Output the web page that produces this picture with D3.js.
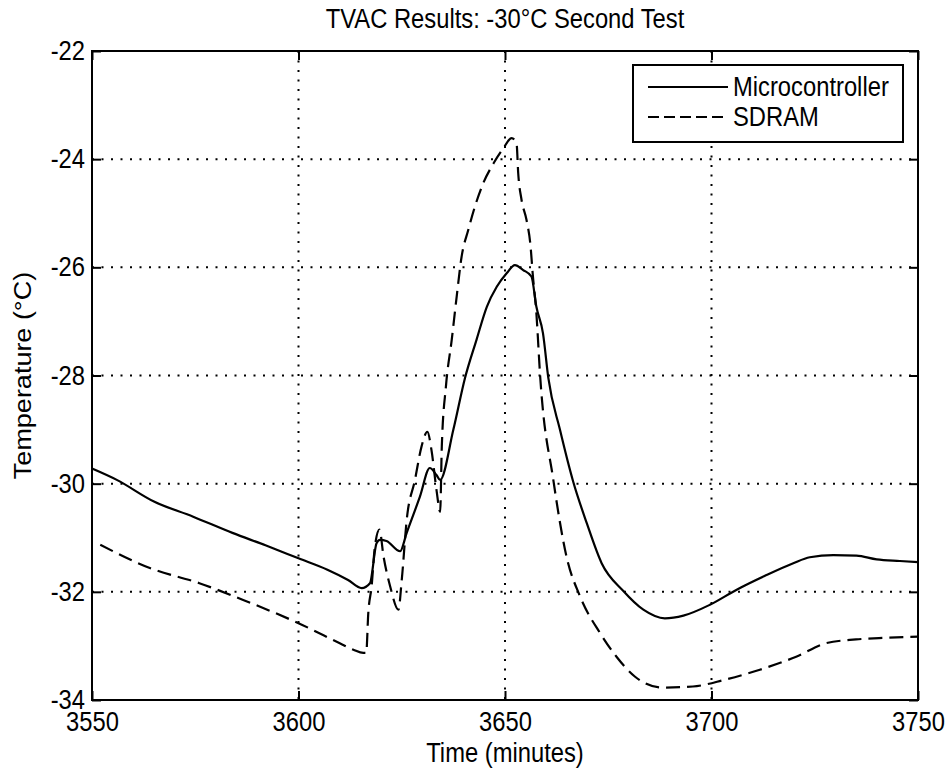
<!DOCTYPE html>
<html lang="en">
  <head>
    <meta charset="UTF-8" />
    <title>TVAC Results: -30°C Second Test</title>
    <style>
      body {
        margin: 0;
        background-color: #fff;
      }
      svg text {
        font-family: "Liberation Sans", Arial, sans-serif;
        font-size: 27px;
        fill: #000;
      }
    </style>
  </head>
  <body>
    <svg id="chart" width="946" height="770"></svg>
    <script src="https://d3js.org/d3.v7.min.js"></script>
    <script>
      // x ticks and y ticks
      const xTicks = [3550, 3600, 3650, 3700, 3750];
      const yTicks = [-34, -32, -30, -28, -26, -24, -22];

      // Microcontroller (solid)
      const mcuTime = [
        3550, 3556, 3565, 3574.5, 3584, 3592, 3600, 3607, 3612, 3615.3,
        3617.3, 3618.9, 3619.7, 3621.3, 3624.6, 3626.2, 3629.4, 3631.8, 3633.4, 3634.3,
        3637.5, 3640.3, 3643.1, 3645.6, 3648, 3650.4, 3652.4, 3654.4, 3656.4, 3657.6,
        3659.2, 3660.5, 3663.3, 3666.5, 3669.8, 3673.4, 3678.6, 3683.5, 3688.7, 3693.2,
        3699.6, 3706.1, 3713.3, 3719.8, 3723.8, 3729.5, 3735.1, 3740, 3745.6, 3750
      ];
      const mcuTemp = [
        -29.72, -29.93, -30.33, -30.61, -30.91, -31.14, -31.38, -31.59, -31.78, -31.93,
        -31.84, -31.1, -31.04, -31.06, -31.25, -30.91, -30.24, -29.71, -29.84, -29.93,
        -29.0, -28.05, -27.34, -26.73, -26.36, -26.11, -25.96, -26.05, -26.17, -26.73,
        -27.22, -28.05, -29.0, -29.96, -30.73, -31.47, -31.98, -32.33, -32.49, -32.44,
        -32.24, -31.96, -31.69, -31.47, -31.36, -31.32, -31.33, -31.4, -31.43, -31.45
      ];

      // SDRAM (dashed)
      const sdramTime = [
        3552, 3564, 3576, 3586.6, 3600, 3610, 3613.3, 3615.7, 3616.4, 3616.9,
        3617.7, 3618.5, 3619.6, 3620.6, 3622.2, 3624.2, 3625, 3626.2, 3628.2, 3629.8,
        3631.2, 3632.2, 3633.4, 3634.3, 3634.7, 3635.7, 3637.1, 3638.3, 3639.5, 3641.1,
        3642.7, 3644.7, 3647.2, 3649.6, 3651.6, 3652.8, 3653.2, 3654, 3655.2, 3656.2,
        3656.7, 3657.6, 3658.5, 3661.7, 3664.9, 3668.2, 3673, 3677, 3681.5, 3688,
        3695.5, 3703, 3711.7, 3720.5, 3727.7, 3735, 3742, 3750
      ];
      const sdramTemp = [
        -31.13, -31.56, -31.84, -32.15, -32.58, -32.95, -33.07, -33.13, -33.13, -32.39,
        -31.9, -31.16, -30.85, -31.35, -31.9, -32.33, -31.78, -30.67, -29.93, -29.31,
        -29.04, -29.38, -30.11, -30.52, -29.31, -28.2, -27.34, -26.54, -25.8, -25.31,
        -24.88, -24.45, -24.08, -23.8, -23.61, -23.71, -24.26, -24.75, -25.12, -25.62,
        -26.11, -26.85, -28.0, -29.93, -31.35, -32.09, -32.76, -33.2, -33.57, -33.77,
        -33.75, -33.63, -33.44, -33.2, -32.95, -32.88, -32.85, -32.83
      ];

      const series = [
        { name: "Microcontroller", time: mcuTime, temp: mcuTemp, dash: null },
        { name: "SDRAM", time: sdramTime, temp: sdramTemp, dash: "14,7" },
      ];

      const svg = d3.select("#chart");
      const margin = { top: 51, right: 28, bottom: 70, left: 92 };
      const width = 946 - margin.left - margin.right;
      const height = 770 - margin.top - margin.bottom;

      const x = d3.scaleLinear().domain([3550, 3750]).range([0, width]);
      const y = d3.scaleLinear().domain([-34, -22]).range([height, 0]);

      const g = svg
        .append("g")
        .attr("transform", `translate(${margin.left},${margin.top})`);

      // dotted grid
      g.append("g")
        .selectAll("line")
        .data(xTicks.slice(1, -1))
        .join("line")
        .attr("x1", (d) => x(d))
        .attr("x2", (d) => x(d))
        .attr("y1", 0)
        .attr("y2", height)
        .attr("stroke", "#000")
        .attr("stroke-width", 2)
        .attr("stroke-dasharray", "2,7.5");

      g.append("g")
        .selectAll("line")
        .data(yTicks.slice(1, -1))
        .join("line")
        .attr("x1", 0)
        .attr("x2", width)
        .attr("y1", (d) => y(d))
        .attr("y2", (d) => y(d))
        .attr("stroke", "#000")
        .attr("stroke-width", 2)
        .attr("stroke-dasharray", "2,7.5");

      // lines
      const line = d3
        .line()
        .curve(d3.curveMonotoneX)
        .x((d) => x(d[0]))
        .y((d) => y(d[1]));

      series.forEach((s) => {
        g.append("path")
          .datum(d3.zip(s.time, s.temp))
          .attr("fill", "none")
          .attr("stroke", "#000")
          .attr("stroke-width", 2.2)
          .attr("stroke-linejoin", "round")
          .attr("stroke-dasharray", s.dash)
          .attr("d", line);
      });

      // axes, ticks pointing inward
      const axBottom = g
        .append("g")
        .attr("transform", `translate(0,${height})`)
        .call(d3.axisBottom(x).tickValues(xTicks).tickSize(-9).tickPadding(12).tickFormat(d3.format("d")));
      const axLeft = g
        .append("g")
        .call(d3.axisLeft(y).tickValues(yTicks).tickSize(-9).tickPadding(7).tickFormat((d) => String(d)));
      const axTop = g
        .append("g")
        .call(d3.axisTop(x).tickValues(xTicks).tickSize(-9).tickFormat(""));
      const axRight = g
        .append("g")
        .attr("transform", `translate(${width},0)`)
        .call(d3.axisRight(y).tickValues(yTicks).tickSize(-9).tickFormat(""));

      [axBottom, axLeft, axTop, axRight].forEach((a) => {
        a.select(".domain").remove();
        a.selectAll(".tick line").attr("stroke", "#000").attr("stroke-width", 2);
        a.selectAll("text").attr("fill", "#000");
      });
      g.selectAll("g").attr("font-family", null).attr("font-size", null);

      g.append("rect")
        .attr("width", width)
        .attr("height", height)
        .attr("fill", "none")
        .attr("stroke", "#000")
        .attr("stroke-width", 2);

      // legend
      const legend = g.append("g").attr("transform", `translate(${633 - margin.left},${65 - margin.top})`);
      legend
        .append("rect")
        .attr("width", 270)
        .attr("height", 77)
        .attr("fill", "#fff")
        .attr("stroke", "#000")
        .attr("stroke-width", 2);
      series.forEach((s, i) => {
        const ly = 22 + i * 30;
        legend
          .append("line")
          .attr("x1", 15)
          .attr("x2", 95)
          .attr("y1", ly)
          .attr("y2", ly)
          .attr("stroke", "#000")
          .attr("stroke-width", 2.2)
          .attr("stroke-dasharray", s.dash ? "11,5" : null);
        legend
          .append("text")
          .attr("x", 100)
          .attr("y", ly + 9)
          .text(s.name);
      });

      // title and labels
      svg
        .append("text")
        .attr("x", margin.left + width / 2)
        .attr("y", 28)
        .attr("text-anchor", "middle")
        .text("TVAC Results: -30°C Second Test");

      svg
        .append("text")
        .attr("x", margin.left + width / 2)
        .attr("y", 762)
        .attr("text-anchor", "middle")
        .text("Time (minutes)");

      // the scan is narrower than it is tall: squeeze horizontal text
      svg.selectAll("text").each(function () {
        const w = this.getComputedTextLength();
        if (w > 0) {
          this.setAttribute("textLength", w * 0.88);
          this.setAttribute("lengthAdjust", "spacingAndGlyphs");
        }
      });

      svg
        .append("text")
        .attr("transform", `translate(31,${margin.top + height / 2}) rotate(-90) scale(1,0.88)`)
        .attr("text-anchor", "middle")
        .text("Temperature (°C)");
    </script>
  </body>
</html>
